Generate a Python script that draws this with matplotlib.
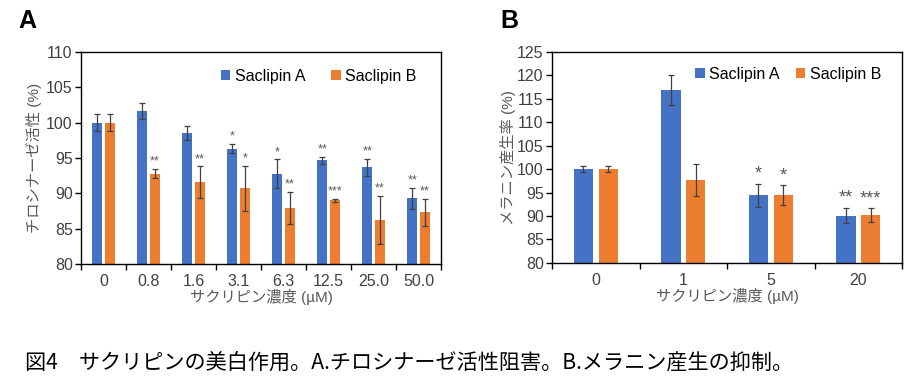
import numpy as np
import matplotlib
matplotlib.use('Agg')
import matplotlib.pyplot as plt

plt.rcParams['font.family'] = ['Liberation Sans', 'Noto Sans CJK JP', 'DejaVu Sans']

blue = '#4472C4'
orange = '#ED7D31'
grey = '#595959'

#%% data, panel A (tyrosinase activity)
concA = ['0', '0.8', '1.6', '3.1', '6.3', '12.5', '25.0', '50.0']
actA = [100.0, 101.6, 98.5, 96.3, 92.8, 94.7, 93.7, 89.3]
errA = [1.2, 1.1, 0.95, 0.65, 2.0, 0.5, 1.2, 1.5]
actB = [100.0, 92.8, 91.6, 90.7, 87.9, 89.0, 86.2, 87.3]
errB = [1.2, 0.6, 2.2, 3.2, 2.3, 0.25, 3.4, 1.9]
sigA_a = ['', '', '', '*', '*', '**', '**', '**']
sigA_b = ['', '**', '**', '*', '**', '***', '**', '**']

#%% data, panel B (melanin production)
concB = ['0', '1', '5', '20']
melA = [100.0, 116.9, 94.4, 90.1]
merrA = [0.6, 3.2, 2.5, 1.6]
melB = [100.0, 97.7, 94.4, 90.2]
merrB = [0.6, 3.4, 2.1, 1.4]
sigB_a = ['', '', '*', '**']
sigB_b = ['', '', '*', '***']

fig = plt.figure(figsize=(9.14, 3.90), dpi=100)
axA = fig.add_axes([0.0886, 0.323, 0.394, 0.544])
axB = fig.add_axes([0.604, 0.326, 0.383, 0.541])


def draw(ax, cats, ya, ea, yb, eb, sa, sb, ylim, ystep, ylabel, starsize, staroff):
    x = np.arange(len(cats))
    w = 0.22
    d = 0.142
    ax.bar(x - d, ya, w, color=blue, label='Saclipin A', zorder=2)
    ax.bar(x + d, yb, w, color=orange, label='Saclipin B', zorder=2)
    ax.errorbar(x - d, ya, yerr=ea, fmt='none', ecolor='#404040',
                elinewidth=0.9, capsize=2.5, capthick=0.9, zorder=3)
    ax.errorbar(x + d, yb, yerr=eb, fmt='none', ecolor='#404040',
                elinewidth=0.9, capsize=2.5, capthick=0.9, zorder=3)
    for xi, v, e, s in zip(x - d, ya, ea, sa):
        if s:
            ax.annotate(s, (xi, v + e), xytext=(0, staroff), textcoords='offset points',
                        ha='center', va='bottom', fontsize=starsize, color=grey)
    for xi, v, e, s in zip(x + d, yb, eb, sb):
        if s:
            ax.annotate(s, (xi, v + e), xytext=(0, staroff), textcoords='offset points',
                        ha='center', va='bottom', fontsize=starsize, color=grey)
    ax.set_xlim(-0.5, len(cats) - 0.5)
    ax.set_ylim(*ylim)
    ax.set_yticks(np.arange(ylim[0], ylim[1] + 0.1, ystep))
    ax.set_xticks(x)
    ax.set_xticklabels(cats)
    ax.set_xticks(np.arange(-0.5, len(cats)), minor=True)
    ax.tick_params(axis='x', which='major', length=0, labelsize=11.5,
                   labelcolor='#404040', pad=7)
    ax.tick_params(axis='x', which='minor', length=4, direction='out', width=1)
    ax.tick_params(axis='y', length=4, direction='out', width=1,
                   labelsize=11.5, labelcolor='#404040', pad=2)
    for sp in ax.spines.values():
        sp.set_linewidth(1.0)
        sp.set_color('black')
    ax.set_ylabel(ylabel, fontsize=11, color=grey)
    ax.set_xlabel('サクリピン濃度 (µM)', fontsize=11, color=grey, labelpad=0)


draw(axA, concA, actA, errA, actB, errB, sigA_a, sigA_b, (80, 110), 5,
     'チロシナーゼ活性 (%)', 9, 1)
draw(axB, concB, melA, merrA, melB, merrB, sigB_a, sigB_b, (80, 125), 5,
     'メラニン産生率 (%)', 13, 1)
axA.yaxis.labelpad = 3
axB.yaxis.labelpad = 1

axA.legend(loc='upper left', bbox_to_anchor=(0.37, 0.95), ncol=2, frameon=False,
           fontsize=11.5, handlelength=0.6, handleheight=0.6, handletextpad=0.3,
           columnspacing=1.6, borderaxespad=0)
axB.legend(loc='upper left', bbox_to_anchor=(0.39, 0.96), ncol=2, frameon=False,
           fontsize=11.5, handlelength=0.6, handleheight=0.6, handletextpad=0.3,
           columnspacing=1.0, borderaxespad=0)

fig.text(0.02, 0.945, 'A', fontsize=18, fontweight='bold', va='center')
fig.text(0.548, 0.945, 'B', fontsize=18, fontweight='bold', va='center')

fig.text(0.027, 0.07, '図4　サクリピンの美白作用。A.チロシナーゼ活性阻害。B.メラニン産生の抑制。',
         fontsize=15.2, family=['Noto Sans CJK JP', 'DejaVu Sans'], va='center')

plt.savefig('out.png', dpi=100)
